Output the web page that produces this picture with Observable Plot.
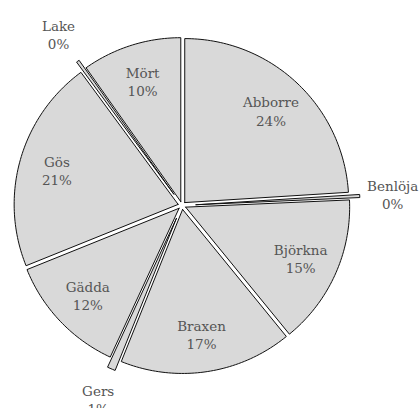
<!DOCTYPE html>
<html>
<head>
<meta charset="utf-8">
<script src="https://cdn.jsdelivr.net/npm/d3@7"></script>
<script src="https://cdn.jsdelivr.net/npm/@observablehq/plot@0.6"></script>
<style>
  html, body { margin: 0; padding: 0; background: #fff; }
  #chart { width: 420px; height: 408px; }
</style>
</head>
<body>
<div id="chart"></div>
<script>
// Data
const names = ["Abborre", "Benlöja", "Björkna", "Braxen", "Gers", "Gädda", "Gös", "Lake", "Mört"];
const shares = [24.0, 0.3, 14.8, 17.0, 0.8, 12.0, 21.0, 0.3, 9.8];

// Geometry
const R = 164;          // pie radius (px units)
const rows = names.map((name, i) => ({name, value: shares[i]}));
const arcs = d3.pie().sort(null).value(d => d.value)(rows);

const slicePts = [];
const labels = [];
for (const a of arcs) {
  const v = a.data.value;
  const mid = (a.startAngle + a.endAngle) / 2;
  const small = v < 2;
  const d = small ? 14 : 4;
  const cx = d * Math.sin(mid), cy = d * Math.cos(mid);
  const n = Math.max(2, Math.ceil((a.endAngle - a.startAngle) / 0.02));
  const pts = [[cx, cy]];
  for (let k = 0; k <= n; k++) {
    const t = a.startAngle + (a.endAngle - a.startAngle) * k / n;
    pts.push([cx + R * Math.sin(t), cy + R * Math.cos(t)]);
  }
  pts.push([cx, cy]);
  for (const [x, y] of pts) slicePts.push({name: a.data.name, x, y});
  const lr = small ? 211 : 130;
  labels.push({
    x: lr * Math.sin(mid),
    y: lr * Math.cos(mid),
    text: `${a.data.name}\n${Math.round(v)}%`
  });
}

const chart = Plot.plot({
  width: 420,
  height: 408,
  margin: 0,
  x: {domain: [-181.5, 238.5], range: [0, 420], axis: null},
  y: {domain: [-203, 205], range: [408, 0], axis: null},
  style: {background: "#fff"},
  marks: [
    Plot.line(slicePts, {
      x: "x", y: "y", z: "name",
      fill: "#d9d9d9", stroke: "#111", strokeWidth: 1,
      strokeLinejoin: "miter", curve: "linear"
    }),
    Plot.text(labels, {
      x: "x", y: "y", text: "text",
      fill: "#555", fontSize: 13.5, lineHeight: 1.34,
      fontFamily: "'DejaVu Serif', Georgia, serif",
      textAnchor: "middle"
    })
  ]
});
document.getElementById("chart").appendChild(chart);
</script>
</body>
</html>
